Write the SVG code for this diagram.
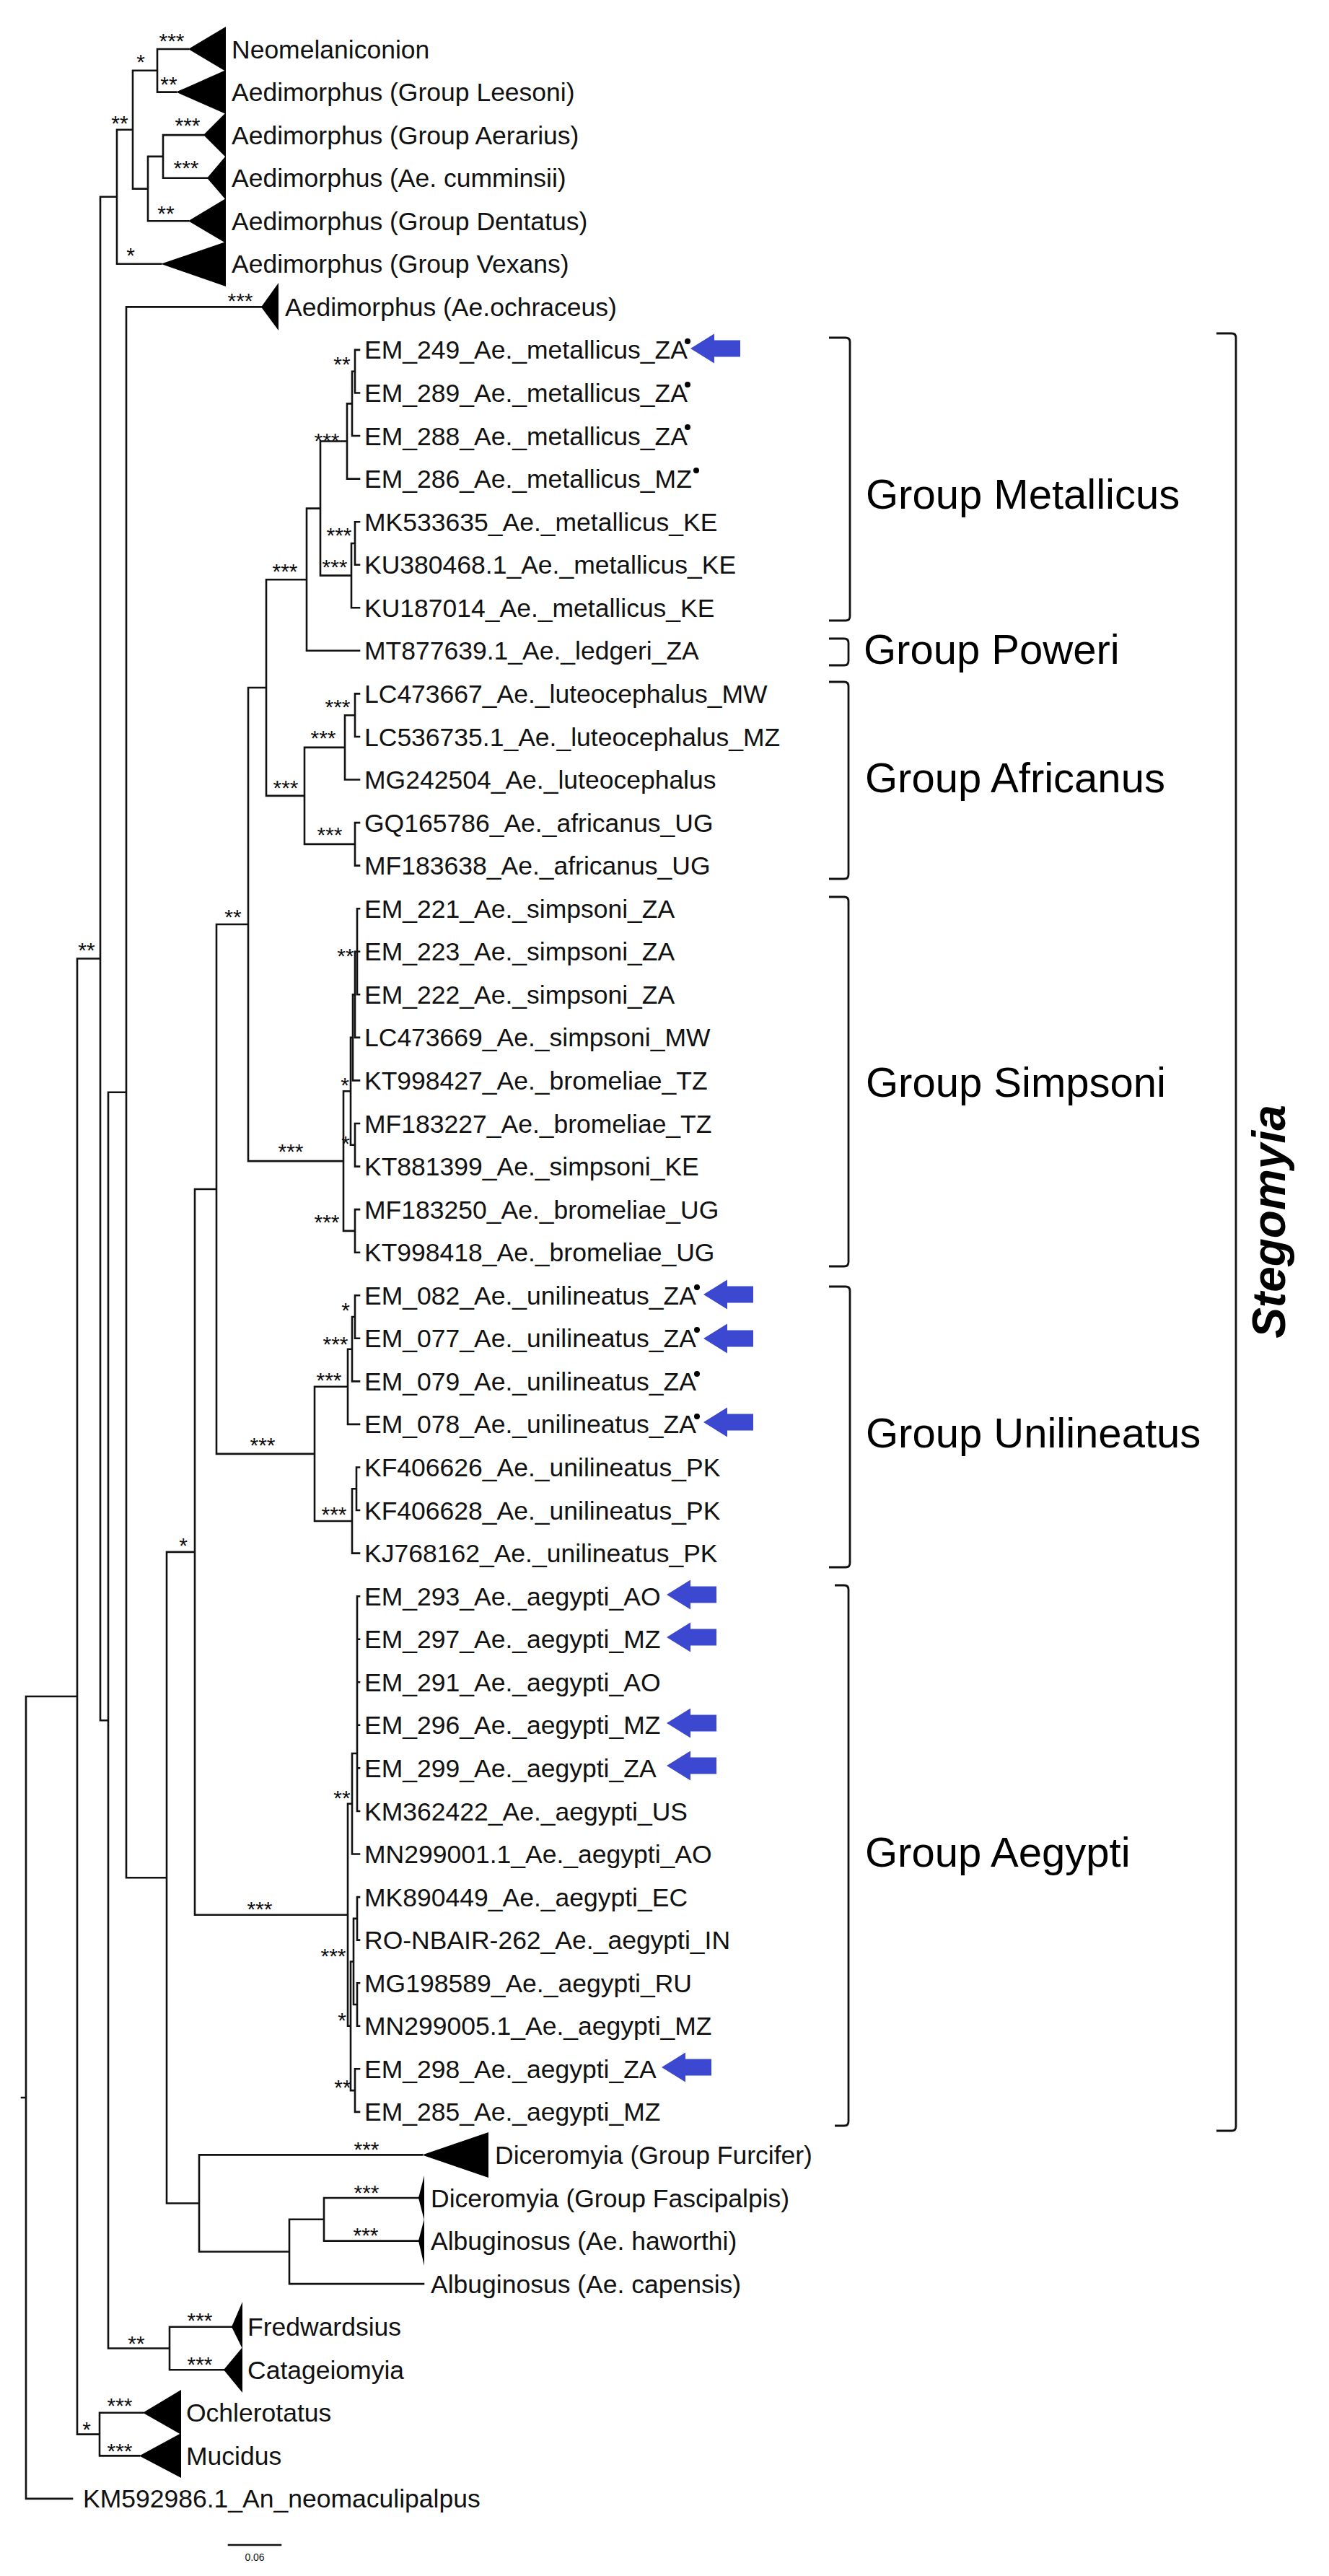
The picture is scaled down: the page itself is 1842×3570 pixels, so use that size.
<svg xmlns="http://www.w3.org/2000/svg" xmlns:xlink="http://www.w3.org/1999/xlink" width="1842" height="3570" viewBox="0 0 1842 3570">
<style>
.br{stroke:#111;stroke-width:2.6;fill:none;stroke-linecap:square}
.tri{fill:#000}
.lf{font-family:"Liberation Sans",Arial,sans-serif;font-size:35.5px;fill:#111}
.bs{font-family:"Liberation Sans",Arial,sans-serif;font-size:30px;fill:#111;text-anchor:middle}
.grp{font-family:"Liberation Sans",Arial,sans-serif;font-size:58px;fill:#000}
.brk{stroke:#111;stroke-width:2.8;fill:none}
.arr{fill:#3B48CF}
.dot{fill:#000}
</style>
<defs>
<path id="arrow" d="M0,0 L33,-20.5 L33,-11.5 L69,-11.5 L69,11.5 L33,11.5 L33,20.5 Z"/>
</defs>
<rect width="1842" height="3570" fill="#fff"/>

<g id="connectors">
<path class="br" d="
M218,68 V127.6 M218,68 H261 M218,127.6 H244
M226,187.1 V246.7 M226,187.1 H282 M226,246.7 H287
M205,216.9 V306.2 M205,216.9 H226 M205,306.2 H261
M184,97.8 V261.6 M184,97.8 H218 M184,261.6 H205
M162,179.7 V365.8 M162,179.7 H184 M162,365.8 H223
M139,272.7 V2384.2 M139,272.7 H162 M139,2384.2 H150
M492,484.9 V544.5 M492,484.9 H498 M492,544.5 H498
M488,514.7 V604 M488,514.7 H492 M488,604 H498
M481,559.4 V663.6 M481,559.4 H488 M481,663.6 H498
M492,723.2 V782.7 M492,723.2 H498 M492,782.7 H498
M487,753 V842.3 M487,753 H492 M487,842.3 H498
M444,611.5 V797.6 M444,611.5 H481 M444,797.6 H487
M425,704.6 V901.8 M425,704.6 H444 M425,901.8 H498
M492,961.4 V1021 M492,961.4 H498 M492,1021 H498
M478,991.2 V1080.5 M478,991.2 H492 M478,1080.5 H498
M492,1140.1 V1199.6 M492,1140.1 H498 M492,1199.6 H498
M422,1035.9 V1169.9 M422,1035.9 H478 M422,1169.9 H492
M369,803.2 V1102.9 M369,803.2 H425 M369,1102.9 H422
M495,1259.2 V1378.3 M495,1259.2 H498 M495,1318.8 H498 M495,1378.3 H498
M492,1318.8 V1437.9 M492,1318.8 H495 M492,1437.9 H498
M489,1378.3 V1497.4 M489,1378.3 H492 M489,1497.4 H498
M492,1557 V1616.6 M492,1557 H498 M492,1616.6 H498
M486,1437.9 V1586.8 M486,1437.9 H489 M486,1586.8 H492
M492,1676.1 V1735.7 M492,1676.1 H498 M492,1735.7 H498
M476,1512.3 V1705.9 M476,1512.3 H486 M476,1705.9 H492
M344,953 V1609.1 M344,953 H369 M344,1609.1 H476
M492,1795.2 V1854.8 M492,1795.2 H498 M492,1854.8 H498
M488,1825 V1914.4 M488,1825 H492 M488,1914.4 H498
M482,1869.7 V1973.9 M482,1869.7 H488 M482,1973.9 H498
M494,2033.5 V2093 M494,2033.5 H498 M494,2093 H498
M488,2063.3 V2152.6 M488,2063.3 H494 M488,2152.6 H498
M436,1921.8 V2108 M436,1921.8 H482 M436,2108 H488
M300,1281 V2014.9 M300,1281 H344 M300,2014.9 H436
M495,2212.2 V2510 M495,2212.2 H498 M495,2271.7 H498 M495,2331.3 H498 M495,2390.8 H498 M495,2450.4 H498 M495,2510 H498
M488,2430 V2569.5 M488,2430 H495 M488,2569.5 H498
M495,2629.1 V2688.6 M495,2629.1 H498 M495,2688.6 H498
M495,2748.2 V2807.8 M495,2748.2 H498 M495,2807.8 H498
M490,2658.9 V2778 M490,2658.9 H495 M490,2778 H495
M492,2867.3 V2926.9 M492,2867.3 H498 M492,2926.9 H498
M486,2718.5 V2897.1 M486,2718.5 H490 M486,2897.1 H492
M482,2499.8 V2807.8 M482,2499.8 H488 M482,2807.8 H486
M270,1648 V2653.8 M270,1648 H300 M270,2653.8 H482
M449,3046 V3105.6 M449,3046 H580 M449,3105.6 H580
M401,3075.8 V3165.1 M401,3075.8 H449 M401,3165.1 H587
M276,2986.4 V3120.5 M276,2986.4 H585 M276,3120.5 H401
M231,2150.9 V3053.5 M231,2150.9 H270 M231,3053.5 H276
M175,425.4 V2602.2 M175,425.4 H362 M175,2602.2 H231
M235,3224.7 V3284.2 M235,3224.7 H321 M235,3284.2 H310
M150,1513.8 V3254.5 M150,1513.8 H175 M150,3254.5 H235
M138,3343.8 V3403.4 M138,3343.8 H198 M138,3403.4 H193
M107,1328.5 V3373.6 M107,1328.5 H139 M107,3373.6 H138
M36,2351 V3462.9 M36,2351 H107 M36,3462.9 H100
M30,2907 H36"/>
</g>

<g id="support-values" class="bs">
<text x="238" y="67">***</text>
<text x="234" y="127">**</text>
<text x="195" y="96">*</text>
<text x="260" y="184">***</text>
<text x="258" y="243">***</text>
<text x="230" y="306">**</text>
<text x="166" y="181">**</text>
<text x="181" y="364">*</text>
<text x="333" y="427">***</text>
<text x="474" y="515">**</text>
<text x="453" y="621">***</text>
<text x="470" y="752">***</text>
<text x="464" y="796">***</text>
<text x="395" y="802">***</text>
<text x="468" y="990">***</text>
<text x="448" y="1033">***</text>
<text x="396" y="1102">***</text>
<text x="457" y="1167">***</text>
<text x="323" y="1281">**</text>
<text x="120" y="1327">**</text>
<text x="479" y="1335">**</text>
<text x="478" y="1514">*</text>
<text x="479" y="1595">*</text>
<text x="403" y="1606">***</text>
<text x="453" y="1704">***</text>
<text x="479" y="1826">*</text>
<text x="465" y="1873">***</text>
<text x="456" y="1923">***</text>
<text x="364" y="2013">***</text>
<text x="463" y="2109">***</text>
<text x="254" y="2152">*</text>
<text x="474" y="2502">**</text>
<text x="360" y="2656">***</text>
<text x="462" y="2721">***</text>
<text x="474" y="2810">*</text>
<text x="475" y="2903">**</text>
<text x="508" y="2989">***</text>
<text x="508" y="3049">***</text>
<text x="507" y="3108">***</text>
<text x="189" y="3258">**</text>
<text x="277" y="3226">***</text>
<text x="277" y="3287">***</text>
<text x="120" y="3377">*</text>
<text x="166" y="3344">***</text>
<text x="166" y="3407">***</text>
</g>

<g id="node-neomelaniconion"><polygon class="tri" points="261,68 313,37 313,99"/><text class="lf" x="321" y="80.5">Neomelaniconion</text></g>
<g id="node-leesoni"><polygon class="tri" points="244,127.6 313,97 313,158"/><text class="lf" x="321" y="140.1">Aedimorphus (Group Leesoni)</text></g>
<g id="node-aerarius"><polygon class="tri" points="282,187.1 313,156 313,218"/><text class="lf" x="321" y="199.6">Aedimorphus (Group Aerarius)</text></g>
<g id="node-cumminsii"><polygon class="tri" points="287,246.7 313,216 313,277"/><text class="lf" x="321" y="259.2">Aedimorphus (Ae. cumminsii)</text></g>
<g id="node-dentatus"><polygon class="tri" points="261,306.2 313,275 313,337"/><text class="lf" x="321" y="318.7">Aedimorphus (Group Dentatus)</text></g>
<g id="node-vexans"><polygon class="tri" points="223,365.8 313,335 313,397"/><text class="lf" x="321" y="378.3">Aedimorphus (Group Vexans)</text></g>
<g id="node-ochraceus"><polygon class="tri" points="362,425.4 386,392 386,458"/><text class="lf" x="395" y="437.9">Aedimorphus (Ae.ochraceus)</text></g>

<g id="node-em249"><text class="lf" x="505" y="497.4">EM_249_Ae._metallicus_ZA</text><circle class="dot" cx="953" cy="473" r="4"/><use xlink:href="#arrow" class="arr" x="957" y="483"/></g>
<g id="node-em289"><text class="lf" x="505" y="557">EM_289_Ae._metallicus_ZA</text><circle class="dot" cx="953" cy="533" r="4"/></g>
<g id="node-em288"><text class="lf" x="505" y="616.5">EM_288_Ae._metallicus_ZA</text><circle class="dot" cx="953" cy="592" r="4"/></g>
<g id="node-em286"><text class="lf" x="505" y="676.1">EM_286_Ae._metallicus_MZ</text><circle class="dot" cx="965" cy="652" r="4"/></g>
<g id="node-mk533635"><text class="lf" x="505" y="735.7">MK533635_Ae._metallicus_KE</text></g>
<g id="node-ku380468"><text class="lf" x="505" y="795.2">KU380468.1_Ae._metallicus_KE</text></g>
<g id="node-ku187014"><text class="lf" x="505" y="854.8">KU187014_Ae._metallicus_KE</text></g>
<g id="node-mt877639"><text class="lf" x="505" y="914.3">MT877639.1_Ae._ledgeri_ZA</text></g>
<g id="node-lc473667"><text class="lf" x="505" y="973.9">LC473667_Ae._luteocephalus_MW</text></g>
<g id="node-lc536735"><text class="lf" x="505" y="1033.5">LC536735.1_Ae._luteocephalus_MZ</text></g>
<g id="node-mg242504"><text class="lf" x="505" y="1093">MG242504_Ae._luteocephalus</text></g>
<g id="node-gq165786"><text class="lf" x="505" y="1152.6">GQ165786_Ae._africanus_UG</text></g>
<g id="node-mf183638"><text class="lf" x="505" y="1212.1">MF183638_Ae._africanus_UG</text></g>
<g id="node-em221"><text class="lf" x="505" y="1271.7">EM_221_Ae._simpsoni_ZA</text></g>
<g id="node-em223"><text class="lf" x="505" y="1331.3">EM_223_Ae._simpsoni_ZA</text></g>
<g id="node-em222"><text class="lf" x="505" y="1390.8">EM_222_Ae._simpsoni_ZA</text></g>
<g id="node-lc473669"><text class="lf" x="505" y="1450.4">LC473669_Ae._simpsoni_MW</text></g>
<g id="node-kt998427"><text class="lf" x="505" y="1509.9">KT998427_Ae._bromeliae_TZ</text></g>
<g id="node-mf183227"><text class="lf" x="505" y="1569.5">MF183227_Ae._bromeliae_TZ</text></g>
<g id="node-kt881399"><text class="lf" x="505" y="1629.1">KT881399_Ae._simpsoni_KE</text></g>
<g id="node-mf183250"><text class="lf" x="505" y="1688.6">MF183250_Ae._bromeliae_UG</text></g>
<g id="node-kt998418"><text class="lf" x="505" y="1748.2">KT998418_Ae._bromeliae_UG</text></g>
<g id="node-em082"><text class="lf" x="505" y="1807.7">EM_082_Ae._unilineatus_ZA</text><circle class="dot" cx="966" cy="1784" r="4"/><use xlink:href="#arrow" class="arr" x="975" y="1794"/></g>
<g id="node-em077"><text class="lf" x="505" y="1867.3">EM_077_Ae._unilineatus_ZA</text><circle class="dot" cx="966" cy="1843" r="4"/><use xlink:href="#arrow" class="arr" x="975" y="1855"/></g>
<g id="node-em079"><text class="lf" x="505" y="1926.9">EM_079_Ae._unilineatus_ZA</text><circle class="dot" cx="966" cy="1904" r="4"/></g>
<g id="node-em078"><text class="lf" x="505" y="1986.4">EM_078_Ae._unilineatus_ZA</text><circle class="dot" cx="966" cy="1963" r="4"/><use xlink:href="#arrow" class="arr" x="975" y="1971"/></g>
<g id="node-kf406626"><text class="lf" x="505" y="2046">KF406626_Ae._unilineatus_PK</text></g>
<g id="node-kf406628"><text class="lf" x="505" y="2105.5">KF406628_Ae._unilineatus_PK</text></g>
<g id="node-kj768162"><text class="lf" x="505" y="2165.1">KJ768162_Ae._unilineatus_PK</text></g>
<g id="node-em293"><text class="lf" x="505" y="2224.7">EM_293_Ae._aegypti_AO</text><use xlink:href="#arrow" class="arr" x="924" y="2210"/></g>
<g id="node-em297"><text class="lf" x="505" y="2284.2">EM_297_Ae._aegypti_MZ</text><use xlink:href="#arrow" class="arr" x="924" y="2269"/></g>
<g id="node-em291"><text class="lf" x="505" y="2343.8">EM_291_Ae._aegypti_AO</text></g>
<g id="node-em296"><text class="lf" x="505" y="2403.3">EM_296_Ae._aegypti_MZ</text><use xlink:href="#arrow" class="arr" x="924" y="2388"/></g>
<g id="node-em299"><text class="lf" x="505" y="2462.9">EM_299_Ae._aegypti_ZA</text><use xlink:href="#arrow" class="arr" x="924" y="2447"/></g>
<g id="node-km362422"><text class="lf" x="505" y="2522.5">KM362422_Ae._aegypti_US</text></g>
<g id="node-mn299001"><text class="lf" x="505" y="2582">MN299001.1_Ae._aegypti_AO</text></g>
<g id="node-mk890449"><text class="lf" x="505" y="2641.6">MK890449_Ae._aegypti_EC</text></g>
<g id="node-ro-nbair-262"><text class="lf" x="505" y="2701.1">RO-NBAIR-262_Ae._aegypti_IN</text></g>
<g id="node-mg198589"><text class="lf" x="505" y="2760.7">MG198589_Ae._aegypti_RU</text></g>
<g id="node-mn299005"><text class="lf" x="505" y="2820.3">MN299005.1_Ae._aegypti_MZ</text></g>
<g id="node-em298"><text class="lf" x="505" y="2879.8">EM_298_Ae._aegypti_ZA</text><use xlink:href="#arrow" class="arr" x="917" y="2865"/></g>
<g id="node-em285"><text class="lf" x="505" y="2939.4">EM_285_Ae._aegypti_MZ</text></g>

<g id="node-furcifer"><polygon class="tri" points="585,2986.4 677,2955 677,3018"/><text class="lf" x="686" y="2998.9">Diceromyia (Group Furcifer)</text></g>
<g id="node-fascipalpis"><polygon class="tri" points="580,3046 588,3015 588,3077"/><text class="lf" x="597" y="3058.5">Diceromyia (Group Fascipalpis)</text></g>
<g id="node-haworthi"><polygon class="tri" points="580,3105.6 588,3075 588,3140"/><text class="lf" x="597" y="3118.1">Albuginosus (Ae. haworthi)</text></g>
<g id="node-capensis"><text class="lf" x="597" y="3177.6">Albuginosus (Ae. capensis)</text></g>
<g id="node-fredwardsius"><polygon class="tri" points="321,3224.7 336,3190 336,3255"/><text class="lf" x="343" y="3237.2">Fredwardsius</text></g>
<g id="node-catageiomyia"><polygon class="tri" points="310,3284.2 336,3253 336,3316"/><text class="lf" x="343" y="3296.7">Catageiomyia</text></g>
<g id="node-ochlerotatus"><polygon class="tri" points="198,3343.8 251,3312 251,3374"/><text class="lf" x="258" y="3356.3">Ochlerotatus</text></g>
<g id="node-mucidus"><polygon class="tri" points="193,3403.4 251,3372 251,3434"/><text class="lf" x="258" y="3415.9">Mucidus</text></g>
<g id="node-km592986"><text class="lf" x="115" y="3475.4">KM592986.1_An_neomaculipalpus</text></g>

<g id="group-brackets">
<path class="brk" d="M1149,468 H1172 Q1178,468 1178,474 V854 Q1178,860 1172,860 H1149"/>
<path class="brk" d="M1149,885 H1170 Q1176,885 1176,891 V916 Q1176,922 1170,922 H1149"/>
<path class="brk" d="M1149,945 H1170 Q1176,945 1176,951 V1212 Q1176,1218 1170,1218 H1149"/>
<path class="brk" d="M1149,1243 H1170 Q1176,1243 1176,1249 V1749 Q1176,1755 1170,1755 H1149"/>
<path class="brk" d="M1149,1783 H1172 Q1178,1783 1178,1789 V2166 Q1178,2172 1172,2172 H1149"/>
<path class="brk" d="M1157,2197 H1170 Q1176,2197 1176,2203 V2940 Q1176,2946 1170,2946 H1157"/>
<path class="brk" d="M1686,462 H1707 Q1713,462 1713,468 V2947 Q1713,2953 1707,2953 H1686"/>
</g>
<g id="group-labels">
<text class="grp" x="1200" y="705">Group Metallicus</text>
<text class="grp" x="1197" y="920">Group Poweri</text>
<text class="grp" x="1199" y="1098">Group Africanus</text>
<text class="grp" x="1200" y="1520">Group Simpsoni</text>
<text class="grp" x="1200" y="2006">Group Unilineatus</text>
<text class="grp" x="1199" y="2587">Group Aegypti</text>
<text transform="translate(1781,1693) rotate(-90)" text-anchor="middle" style="font-family:'Liberation Sans',Arial,sans-serif;font-size:64px;font-weight:bold;font-style:italic;fill:#000">Stegomyia</text>
</g>
<g id="scale-bar">
<path class="br" d="M317,3527 H389"/>
<text x="353" y="3549" text-anchor="middle" style="font-family:'Liberation Sans',Arial,sans-serif;font-size:14px;fill:#111">0.06</text>
</g>
</svg>
